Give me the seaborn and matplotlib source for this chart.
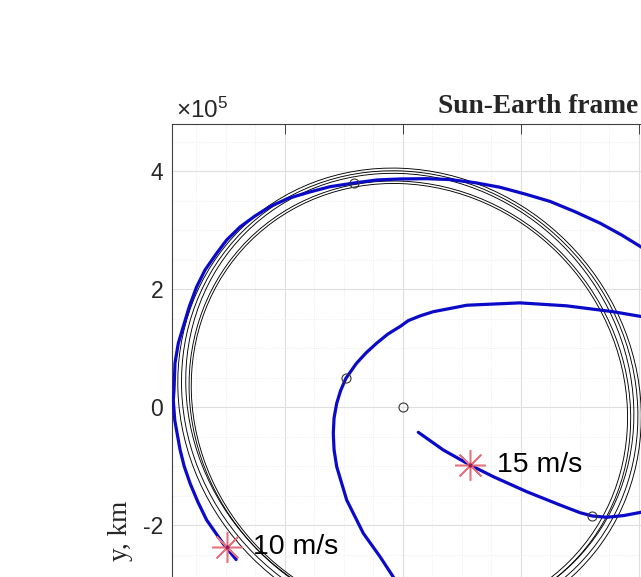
import numpy as np
import seaborn as sns
import matplotlib
matplotlib.use("Agg")
import matplotlib.pyplot as plt
from matplotlib.patches import Ellipse
from matplotlib.ticker import MultipleLocator, FuncFormatter

# values in units of 1e5 km
KM = 1e5

# Moon orbit loops: centre, semi-axes (long one runs upper-left to lower-right)
orbit_cx = [0.117, 0.125, 0.124, 0.122, 0.119]
orbit_cy = [0.096, 0.093, 0.168, 0.141, 0.127]
orbit_a = [3.83, 3.88, 3.94, 4.01, 4.07]
orbit_b = [3.56, 3.60, 3.65, 3.72, 3.78]
orbit_angle = 135

# trajectory after the 10 m/s burn
traj10_x = [-2.82, -3.04, -3.18, -3.32, -3.47, -3.60, -3.70, -3.77, -3.86, -3.885,
            -3.873, -3.856, -3.80, -3.715, -3.614, -3.49, -3.347, -3.15, -2.98, -2.75,
            -2.50, -2.25, -1.935, -1.57, -1.229, -0.83, -0.437, -0.04, 0.40, 0.80,
            1.229, 1.65, 2.076, 2.50, 2.924, 3.35, 3.715, 4.04, 4.45]
traj10_y = [-2.58, -2.31, -2.11, -1.91, -1.60, -1.29, -1.00, -0.72, -0.22, 0.12,
            0.29, 0.75, 1.085, 1.37, 1.705, 2.04, 2.327, 2.61, 2.836, 3.06,
            3.242, 3.40, 3.542, 3.65, 3.739, 3.80, 3.853, 3.87, 3.875, 3.86,
            3.807, 3.73, 3.615, 3.49, 3.315, 3.12, 2.92, 2.72, 2.45]

# trajectory after the 15 m/s burn (part coming back in)
loop_x = [4.45, 4.04, 3.57, 2.78, 1.99, 1.09, 0.52, 0.30, 0.10, -0.04, -0.25, -0.44,
          -0.62, -0.78, -0.96, -1.05, -1.115, -1.16, -1.173, -1.16, -1.115, -0.946,
          -0.664, -0.381, -0.156, -0.02]
loop_y = [1.47, 1.54, 1.62, 1.72, 1.77, 1.73, 1.62, 1.55, 1.47, 1.37, 1.24, 1.085,
          0.92, 0.746, 0.49, 0.28, 0.068, -0.18, -0.44, -0.72, -1.007, -1.571,
          -2.136, -2.532, -2.876, -3.15]

# trajectory after the 15 m/s burn (start)
traj15_x = [0.268, 0.692, 1.144, 1.54, 2.105, 2.67, 3.008, 3.217, 3.46, 3.75, 4.04, 4.45]
traj15_y = [-0.424, -0.724, -0.978, -1.176, -1.43, -1.656, -1.786, -1.842, -1.864, -1.835, -1.78, -1.68]

# small open circles
circ_x = [0.0, -0.817, -0.963, 3.21]
circ_y = [0.0, 3.797, 0.49, -1.842]

# burn points and labels
burn_x = [-2.98, 1.144]
burn_y = [-2.363, -0.978]
burn_labels = ["10 m/s", "15 m/s"]
label_x = [-2.539, 1.596]

yticks = [-2, 0, 2, 4]
xticks = [-2, 0, 2, 4]

sns.set_theme(style="white")
plt.rcParams["font.family"] = ["Liberation Sans", "DejaVu Sans"]
plt.rcParams["mathtext.fontset"] = "custom"
plt.rcParams["mathtext.rm"] = "Liberation Sans"

W, H = 641, 577
fig = plt.figure(figsize=(W / 100, H / 100), dpi=100)

# axes run past the right and bottom edges of the picture
x0, x1 = -3.90, 5.05
y0, y1 = -4.12, 4.80
px = 59.0
left_px = 402.5 + x0 * px
top_px = 407.3 - y1 * px
ax = fig.add_axes([left_px / W, 1 - (top_px + (y1 - y0) * px) / H,
                   (x1 - x0) * px / W, (y1 - y0) * px / H])

for cx, cy, a, b in zip(orbit_cx, orbit_cy, orbit_a, orbit_b):
    ax.add_patch(Ellipse((cx * KM, cy * KM), 2 * a * KM, 2 * b * KM, angle=orbit_angle,
                         fill=False, ec="black", lw=0.65, zorder=2))

blue = "#0a0ac8"
for xs, ys in [(traj10_x, traj10_y), (loop_x, loop_y), (traj15_x, traj15_y)]:
    sns.lineplot(x=np.array(xs) * KM, y=np.array(ys) * KM, sort=False, estimator=None,
                 color=blue, lw=2.3, ax=ax, zorder=3, solid_joinstyle="round")

ax.plot(np.array(circ_x) * KM, np.array(circ_y) * KM, "o", ms=6.5, mfc="none",
        mec="#333333", mew=0.8, zorder=4, ls="none")

ax.plot(np.array(burn_x) * KM, np.array(burn_y) * KM, ls="none", marker=(8, 2, 0),
        ms=22, mec="#e8707c", mew=1.1, zorder=5)
ax.plot(np.array(burn_x) * KM, np.array(burn_y) * KM, ls="none", marker="o",
        ms=3, mfc="#9a1d55", mec="none", zorder=6)
for lx, by, lab in zip(label_x, burn_y, burn_labels):
    ax.text(lx * KM, by * KM, lab, fontsize=20.5, va="center", ha="left",
            color="black", zorder=6)

ax.set_xticks(np.array(xticks) * KM)
ax.set_yticks(np.array(yticks) * KM)
ax.set_xlim(x0 * KM, x1 * KM)
ax.set_ylim(y0 * KM, y1 * KM)
ax.xaxis.set_minor_locator(MultipleLocator(0.5 * KM))
ax.yaxis.set_minor_locator(MultipleLocator(0.5 * KM))
ax.yaxis.set_major_formatter(FuncFormatter(lambda v, p: f"{v / KM:.0f}"))
ax.tick_params(which="major", direction="in", length=7.5, width=0.6, color="#262626",
               top=True, right=True, labelbottom=False, labelsize=16.5, pad=6.5,
               labelcolor="#262626")
ax.tick_params(which="minor", length=0)
ax.grid(which="major", color="#dedede", lw=0.8)
ax.grid(which="minor", color="#e8e8e8", lw=0.6, ls=":")
ax.set_axisbelow(True)
for s in ax.spines.values():
    s.set_color("#404040")
    s.set_linewidth(0.8)

fig.text(176 / W, 1 - 118.3 / H, r"$\times\mathregular{10^{5}}$", fontsize=17.5,
         color="#262626", va="baseline", ha="left")
fig.text(438.3 / W, 1 - 113.3 / H, "Sun-Earth frame", fontsize=19.7, fontweight="bold",
         family="Liberation Serif", va="baseline", ha="left")
fig.text(120.8 / W, 1 - 530.8 / H, "y, km", fontsize=19.5, family="Liberation Serif",
         rotation=90, va="center", ha="center")

fig.savefig("out.png", dpi=100)
